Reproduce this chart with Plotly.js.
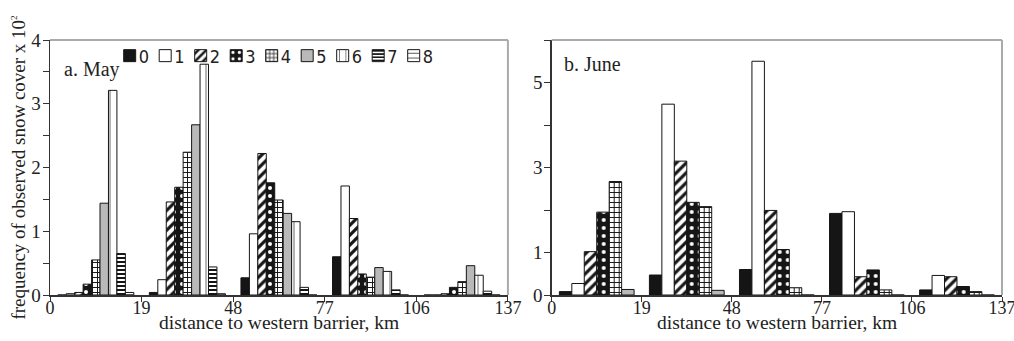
<!DOCTYPE html>
<html><head><meta charset="utf-8">
<script src="https://cdn.plot.ly/plotly-3.0.1.min.js"></script>
<style>html,body{margin:0;padding:0;background:#fff}#chart{width:1014px;height:341px}</style>
</head><body><div id="chart"></div>
<script>
// bin edges (km) shown as tick labels
const binEdges = [0, 19, 48, 77, 106, 137];
const seriesNames = ["0", "1", "2", "3", "4", "5", "6", "7", "8"];
// May (a), frequency x 10^2 per bin
const may0 = [0, 0.04, 0.27, 0.60, 0];
const may1 = [0.02, 0.24, 0.96, 1.71, 0];
const may2 = [0.04, 1.46, 2.22, 1.20, 0.02];
const may3 = [0.17, 1.69, 1.76, 0.33, 0.12];
const may4 = [0.55, 2.24, 1.49, 0.28, 0.21];
const may5 = [1.44, 2.67, 1.28, 0.43, 0.46];
const may6 = [3.21, 3.62, 1.15, 0.37, 0.31];
const may7 = [0.65, 0.44, 0.12, 0.08, 0.06];
const may8 = [0.04, 0.02, 0, 0, 0];
// June (b)
const jun0 = [0.08, 0.47, 0.60, 1.92, 0.12];
const jun1 = [0.27, 4.49, 5.50, 1.96, 0.46];
const jun2 = [1.02, 3.15, 1.99, 0.43, 0.43];
const jun3 = [1.95, 2.18, 1.07, 0.59, 0.20];
const jun4 = [2.67, 2.08, 0.17, 0.12, 0.08];
const jun5 = [0.13, 0.11, 0, 0, 0];

const xTitle = 'distance to western barrier, km';
const yTitle = 'frequency of observed snow cover x 10<sup><span style="font-size:9px">2</span></sup>';

const mayVals = [may0, may1, may2, may3, may4, may5, may6, may7, may8];
const junVals = [jun0, jun1, jun2, jun3, jun4, jun5];

const ink = '#151515';
const styles = [
  {color: ink},
  {color: '#ffffff'},
  {color: '#ffffff', pattern: {shape: '/', fgcolor: ink, bgcolor: '#ffffff', size: 7, solidity: 0.45}},
  {color: ink, pattern: {shape: '.', fgcolor: '#ffffff', bgcolor: ink, size: 8, solidity: 0.2}},
  {color: '#ffffff', pattern: {shape: '+', fgcolor: ink, bgcolor: '#ffffff', size: 5, solidity: 0.35}},
  {color: '#b9b9b9'},
  {color: '#ffffff', pattern: {shape: '|', fgcolor: '#444', bgcolor: '#ffffff', size: 8, solidity: 0.1}},
  {color: '#ffffff', pattern: {shape: '-', fgcolor: ink, bgcolor: '#ffffff', size: 4, solidity: 0.5}},
  {color: '#ffffff', pattern: {shape: '-', fgcolor: '#555', bgcolor: '#ffffff', size: 6, solidity: 0.2}}
];

const xpos = binEdges.slice(0, -1).map((_, i) => i + 0.5);
const traces = [];
mayVals.forEach((vals, k) => {
  const m = {color: styles[k].color, line: {color: ink, width: 1}};
  if (styles[k].pattern) m.pattern = styles[k].pattern;
  traces.push({type: 'bar', x: xpos, y: vals, name: seriesNames[k], legendgroup: seriesNames[k],
    marker: m, xaxis: 'x', yaxis: 'y', showlegend: true, hoverinfo: 'y'});
});
junVals.forEach((vals, k) => {
  const m = {color: styles[k].color, line: {color: ink, width: 1}};
  if (styles[k].pattern) m.pattern = styles[k].pattern;
  traces.push({type: 'bar', x: xpos, y: vals, name: seriesNames[k], legendgroup: seriesNames[k],
    marker: m, xaxis: 'x2', yaxis: 'y2', showlegend: false, hoverinfo: 'y'});
});

const serif = "'Liberation Serif', 'Times New Roman', Times, serif";
const tickIdx = binEdges.map((_, i) => i);
const xbase = {
  range: [0, 5], tickvals: tickIdx, ticktext: binEdges.map(String),
  ticks: 'outside', ticklen: 5, tickcolor: '#333', showline: true, linecolor: '#333', linewidth: 1.5,
  showgrid: false, zeroline: false, ticklabeloverflow: 'allow', ticklabelstandoff: -9,
  tickfont: {family: serif, size: 18, color: '#222'}
};
const mayTicks = [0, 0.5, 1, 1.5, 2, 2.5, 3, 3.5, 4];
const junTicks = [0, 1, 2, 3, 4, 5, 6];
const junLabels = ['0', '1', '', '3', '', '5', ''];
const ybase = {
  ticks: 'outside', ticklen: 6, tickcolor: '#333', showline: true, linecolor: '#333', linewidth: 1.5,
  showgrid: false, zeroline: false, ticklabelstandoff: -2, tickfont: {family: serif, size: 19, color: '#222'}
};

const layout = {
  width: 1014, height: 341,
  margin: {l: 50, r: 12, t: 40, b: 46},
  paper_bgcolor: '#fff', plot_bgcolor: '#fff',
  barmode: 'group', bargap: 0.17, bargroupgap: 0,
  xaxis: Object.assign({}, xbase, {domain: [0, 0.481], anchor: 'y'}),
  xaxis2: Object.assign({}, xbase, {domain: [0.527, 1], anchor: 'y2'}),
  yaxis: Object.assign({}, ybase, {range: [0, 4], tickvals: mayTicks,
    ticktext: mayTicks.map(v => Number.isInteger(v) ? String(v) : ''), anchor: 'x',
    title: {text: yTitle, font: {family: serif, size: 19, color: '#222'}, standoff: 0}}),
  yaxis2: Object.assign({}, ybase, {range: [0, 6], tickvals: junTicks, ticktext: junLabels, anchor: 'x2'}),
  showlegend: true,
  legend: {orientation: 'h', x: 0.069, xanchor: 'left', y: 1.01, yanchor: 'top',
    font: {family: "'Liberation Sans Narrow', 'DejaVu Sans Condensed', 'Liberation Sans', sans-serif", size: 18, color: '#222'},
    itemwidth: 30, bgcolor: 'rgba(0,0,0,0)', traceorder: 'normal'},
  annotations: [
    {text: 'a. May', xref: 'x domain', yref: 'y domain', x: 0.026, y: 0.885, xanchor: 'left', yanchor: 'middle',
      showarrow: false, font: {family: serif, size: 20, color: '#222'}},
    {text: 'b. June', xref: 'x2 domain', yref: 'y2 domain', x: 0.023, y: 0.906, xanchor: 'left', yanchor: 'middle',
      showarrow: false, font: {family: serif, size: 20, color: '#222'}},
    {text: xTitle, xref: 'x domain', yref: 'paper', x: 0.5, y: -0.106, xanchor: 'center', yanchor: 'middle',
      showarrow: false, font: {family: serif, size: 19.5, color: '#222'}},
    {text: xTitle, xref: 'x2 domain', yref: 'paper', x: 0.5, y: -0.106, xanchor: 'center', yanchor: 'middle',
      showarrow: false, font: {family: serif, size: 19.5, color: '#222'}}
  ],
  shapes: [
    {type: 'line', xref: 'x domain', yref: 'y domain', x0: 0, x1: 1, y0: 1, y1: 1, line: {color: '#aaa', width: 2}},
    {type: 'line', xref: 'x domain', yref: 'y domain', x0: 1, x1: 1, y0: 0, y1: 1, line: {color: '#aaa', width: 2}},
    {type: 'line', xref: 'x2 domain', yref: 'y2 domain', x0: 0, x1: 1, y0: 1, y1: 1, line: {color: '#aaa', width: 2}},
    {type: 'line', xref: 'x2 domain', yref: 'y2 domain', x0: 1, x1: 1, y0: 0, y1: 1, line: {color: '#aaa', width: 2}}
  ]
};

Plotly.newPlot('chart', traces, layout, {staticPlot: true, displayModeBar: false}).then(function (gd) {
  // compact the legend entries: swatch directly before its label, ~35px per entry
  const items = gd.querySelectorAll('.legend .traces');
  items.forEach(function (tr, i) {
    const t = tr.getAttribute('transform') || '';
    const m = /translate\(\s*([-\d.]+)[ ,]+([-\d.]+)\s*\)/.exec(t);
    const y = m ? m[2] : 0;
    tr.setAttribute('transform', 'translate(' + (i * 35.5) + ',' + y + ')');
    const layers = tr.querySelector('.layers');
    if (layers) layers.setAttribute('transform', 'translate(-6,0) ' + (layers.getAttribute('transform') || ''));
    const txt = tr.querySelector('text.legendtext');
    if (txt) {
      txt.setAttribute('x', 23);
      txt.querySelectorAll('tspan').forEach(function (s) { if (s.hasAttribute('x')) s.setAttribute('x', 23); });
    }
  });
});
</script>
</body></html>
